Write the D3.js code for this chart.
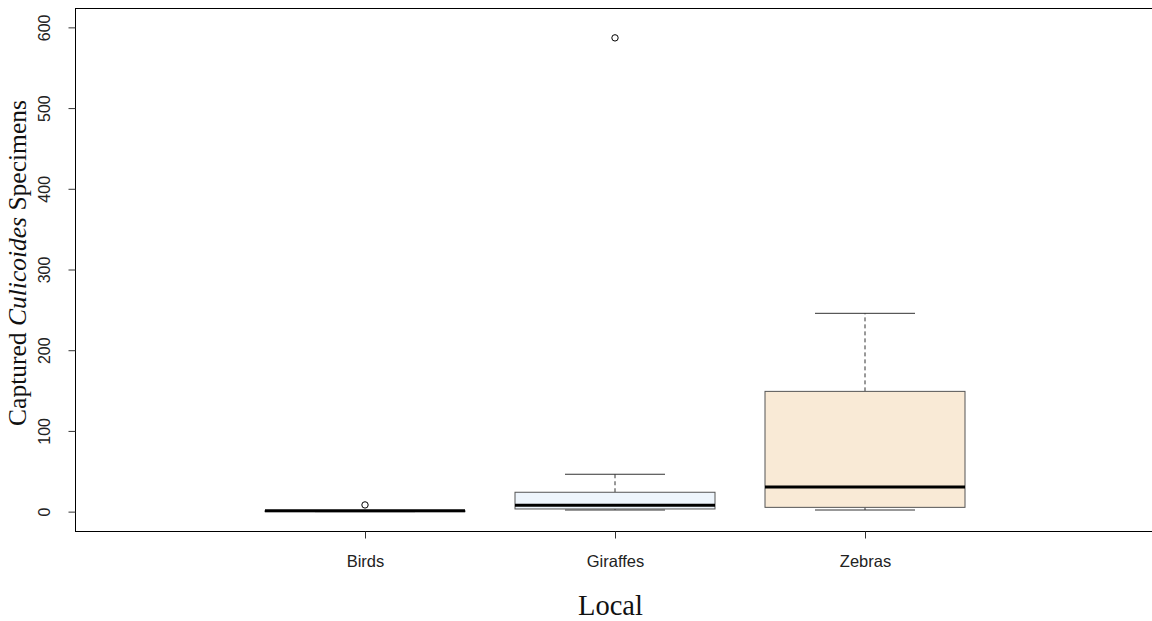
<!DOCTYPE html>
<html>
<head>
<meta charset="utf-8">
<script src="https://cdn.jsdelivr.net/npm/d3@7"></script>
<style>
  body { margin: 0; background: #fff; }
  svg { display: block; }
</style>
</head>
<body>
<div id="chart"></div>
<script>
// box stats
var categories = ['Birds', 'Giraffes', 'Zebras'];
var lowWhisk = [0, 2, 2];
var q1 = [0, 3.3, 5.3];
var medians = [1, 7.8, 30.6];
var q3 = [1, 24, 149];
var highWhisk = [1, 46.3, 245.7];
var outliers = [[8.3], [587], []];
var fills = ['#E8F0E0', '#EEF5FC', '#F9EAD6'];
var yTicks = [0, 100, 200, 300, 400, 500, 600];

var width = 1152, height = 621;
var plotL = 75, plotR = 1155, plotT = 8, plotB = 531;

var x = d3.scaleLinear().domain([-0.16, 4.16]).range([plotL, plotR]);
var y = d3.scaleLinear().domain([-24, 624]).range([plotB, plotT]);
var boxW = x(0.8) - x(0), stapleW = boxW / 2;

var svg = d3.select('#chart').append('svg')
    .attr('width', width)
    .attr('height', height);

var boxes = categories.map(function(c, i) {
  return { name: c, lo: lowWhisk[i], q1: q1[i], med: medians[i], q3: q3[i],
           hi: highWhisk[i], out: outliers[i], fill: fills[i], pos: i + 1 };
});

var g = svg.selectAll('g.box')
    .data(boxes)
    .enter().append('g')
    .attr('class', 'box');

// whiskers (dashed)
g.append('line')
    .attr('x1', function(d) { return x(d.pos); })
    .attr('x2', function(d) { return x(d.pos); })
    .attr('y1', function(d) { return y(d.q3); })
    .attr('y2', function(d) { return y(d.hi); })
    .style('stroke', '#333').style('stroke-dasharray', '4,3');
g.append('line')
    .attr('x1', function(d) { return x(d.pos); })
    .attr('x2', function(d) { return x(d.pos); })
    .attr('y1', function(d) { return y(d.q1); })
    .attr('y2', function(d) { return y(d.lo); })
    .style('stroke', '#333').style('stroke-dasharray', '4,3');

// staples
g.selectAll('line.staple')
    .data(function(d) { return [d.lo, d.hi].map(function(v) { return { pos: d.pos, v: v }; }); })
    .enter().append('line')
    .attr('class', 'staple')
    .attr('x1', function(d) { return x(d.pos) - stapleW / 2; })
    .attr('x2', function(d) { return x(d.pos) + stapleW / 2; })
    .attr('y1', function(d) { return y(d.v); })
    .attr('y2', function(d) { return y(d.v); })
    .style('stroke', '#333');

// boxes
g.append('rect')
    .attr('x', function(d) { return x(d.pos) - boxW / 2; })
    .attr('y', function(d) { return y(d.q3); })
    .attr('width', boxW)
    .attr('height', function(d) { return y(d.q1) - y(d.q3); })
    .style('fill', function(d) { return d.fill; })
    .style('stroke', '#555');

// medians
g.append('line')
    .attr('x1', function(d) { return x(d.pos) - boxW / 2; })
    .attr('x2', function(d) { return x(d.pos) + boxW / 2; })
    .attr('y1', function(d) { return y(d.med); })
    .attr('y2', function(d) { return y(d.med); })
    .style('stroke', '#000').style('stroke-width', 3);

// outliers
g.selectAll('circle')
    .data(function(d) { return d.out.map(function(v) { return { pos: d.pos, v: v }; }); })
    .enter().append('circle')
    .attr('cx', function(d) { return x(d.pos); })
    .attr('cy', function(d) { return y(d.v); })
    .attr('r', 3.2)
    .style('fill', 'none')
    .style('stroke', '#000');

// frame
svg.append('rect')
    .attr('x', plotL + 0.5).attr('y', plotT + 0.5)
    .attr('width', plotR - plotL).attr('height', plotB - plotT)
    .style('fill', 'none').style('stroke', '#000');

// y axis
var yAx = svg.append('g')
    .attr('transform', 'translate(' + (plotL + 0.5) + ',0)')
    .call(d3.axisLeft(y).tickValues(yTicks).tickSize(7));
yAx.select('.domain').remove();
yAx.selectAll('.tick line').style('stroke', '#333');
yAx.selectAll('.tick text')
    .attr('x', null).attr('y', null).attr('dy', '0.35em')
    .attr('transform', 'translate(-31,0) rotate(-90)')
    .style('text-anchor', 'middle')
    .style('font-family', '"Liberation Sans", Arial, sans-serif')
    .style('font-size', '16px')
    .style('fill', '#222');

// x axis
var xAx = svg.append('g')
    .attr('transform', 'translate(0,' + (plotB + 0.5) + ')')
    .call(d3.axisBottom(x).tickValues([1, 2, 3]).tickSize(7).tickPadding(17)
      .tickFormat(function(d) { return categories[d - 1]; }));
xAx.select('.domain').remove();
xAx.selectAll('.tick line').style('stroke', '#333');
xAx.selectAll('.tick text')
    .style('font-family', '"Liberation Sans", Arial, sans-serif')
    .style('font-size', '16.5px')
    .style('fill', '#222');

// axis titles
svg.append('text')
    .attr('x', 610.5)
    .attr('y', 615)
    .attr('text-anchor', 'middle')
    .style('font-family', '"Liberation Serif", "Times New Roman", serif')
    .style('font-size', '28.5px')
    .style('fill', '#111')
    .text('Local');

var yt = svg.append('text')
    .attr('transform', 'translate(26,263) rotate(-90)')
    .attr('text-anchor', 'middle')
    .style('font-family', '"Liberation Serif", "Times New Roman", serif')
    .style('font-size', '25.5px')
    .style('fill', '#111');
yt.append('tspan').text('Captured ');
yt.append('tspan').style('font-style', 'italic').text('Culicoides');
yt.append('tspan').text(' Specimens');
</script>
</body>
</html>
